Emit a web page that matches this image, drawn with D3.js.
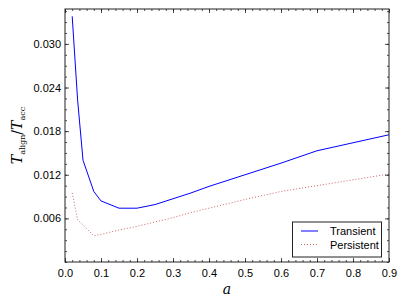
<!DOCTYPE html>
<html><head><meta charset="utf-8">
<script src="https://cdn.jsdelivr.net/npm/d3@7"></script>
<style>
html,body{margin:0;padding:0;background:#fff;}
svg{display:block;}
text{font-family:"Liberation Sans",Arial,sans-serif;}
text.serif{font-family:"DejaVu Serif","Liberation Serif",serif;}
</style></head>
<body>
<svg id="c" width="407" height="305"></svg>
<script>
const aValues = [0.02, 0.035, 0.05, 0.08, 0.1, 0.15, 0.2, 0.25, 0.3, 0.35, 0.4, 0.5, 0.6, 0.7, 0.8, 0.9];
const transient = [0.0338, 0.0223, 0.0140, 0.0097, 0.0084, 0.0074, 0.0074, 0.0079, 0.0087, 0.0095, 0.0104, 0.0120, 0.0136, 0.0153, 0.0164, 0.0175];
const persistent = [0.0095, 0.0058, 0.0051, 0.0036, 0.0038, 0.0044, 0.0049, 0.0055, 0.0061, 0.0068, 0.0074, 0.0086, 0.0097, 0.0105, 0.0113, 0.0121];
const xTicks = [0.0, 0.1, 0.2, 0.3, 0.4, 0.5, 0.6, 0.7, 0.8, 0.9];
const yTicks = [0.006, 0.012, 0.018, 0.024, 0.030];
const seriesNames = ["Transient", "Persistent"];

const svg = d3.select("#c");
const L = 65, R = 389, T = 9, B = 262;
const x = d3.scaleLinear().domain([0, 0.9]).range([L, R]);
const y = d3.scaleLinear().domain([0, 0.0348]).range([B, T]);

const line = d3.line().x(d => x(d[0])).y(d => y(d[1]));
svg.append("path").datum(aValues.map((a, i) => [a, transient[i]]))
  .attr("d", line).attr("fill", "none").attr("stroke", "#0000ff").attr("stroke-width", 1);
svg.append("path").datum(aValues.map((a, i) => [a, persistent[i]]))
  .attr("d", line).attr("fill", "none").attr("stroke", "#c44a4a").attr("stroke-width", 1)
  .attr("stroke-dasharray", "1,2").attr("opacity", 0.85);

const xMinor = d3.range(0, 0.9001, 0.02);
const yMinor = d3.range(0, 0.0348, 0.0015);
const axCol = "#222";
function tickAxis(axisFn, scale, vals, size, tr, labels) {
  const g = svg.append("g").attr("transform", tr)
    .call(axisFn(scale).tickValues(vals).tickSize(size).tickFormat(labels ? labels : ""));
  g.select(".domain").remove();
  g.selectAll(".tick line").attr("stroke", axCol).attr("stroke-width", 0.8);
  return g;
}
tickAxis(d3.axisTop, x, xMinor, 2, `translate(0,${B})`);
const gxb = tickAxis(d3.axisTop, x, xTicks, 4, `translate(0,${B})`, d3.format(".1f"));
gxb.selectAll(".tick text").attr("y", 15).attr("dy", 0).attr("font-size", 11).attr("fill", "#000");
tickAxis(d3.axisBottom, x, xMinor, 2, `translate(0,${T})`);
tickAxis(d3.axisBottom, x, xTicks, 4, `translate(0,${T})`);
tickAxis(d3.axisRight, y, yMinor, 2, `translate(${L},0)`);
const gyl = tickAxis(d3.axisRight, y, yTicks, 4, `translate(${L},0)`, d3.format(".3f"));
gyl.selectAll(".tick text").attr("x", -4).attr("text-anchor", "end").attr("font-size", 11).attr("fill", "#000");
tickAxis(d3.axisLeft, y, yMinor, 2, `translate(${R},0)`);
tickAxis(d3.axisLeft, y, yTicks, 4, `translate(${R},0)`);

svg.append("rect").attr("x", L).attr("y", T).attr("width", R - L).attr("height", B - T)
  .attr("fill", "none").attr("stroke", axCol).attr("stroke-width", 1);

svg.append("text").attr("class", "serif").attr("x", (L + R) / 2).attr("y", 294).attr("text-anchor", "middle")
  .attr("font-style", "italic").attr("font-size", 14).text("a");

const yl = svg.append("text").attr("class", "serif")
  .attr("transform", `translate(22,${(T + B) / 2}) rotate(-90)`)
  .attr("text-anchor", "middle").attr("font-size", 14);
yl.append("tspan").attr("font-style", "italic").text("T");
yl.append("tspan").attr("font-size", 8).attr("dy", 3).text("align");
yl.append("tspan").attr("dy", -3).text("/");
yl.append("tspan").attr("font-style", "italic").text("T");
yl.append("tspan").attr("font-size", 8).attr("dy", 3).text("acc");

const lg = svg.append("g");
lg.append("rect").attr("x", 292.5).attr("y", 222).attr("width", 89).attr("height", 35)
  .attr("fill", "#fff").attr("stroke", "#222").attr("stroke-width", 1);
const legStyles = [{c: "#0000ff", d: null, o: 1}, {c: "#c44a4a", d: "1,2", o: 0.85}];
seriesNames.forEach((n, i) => {
  const yy = 231 + i * 13.5;
  lg.append("line").attr("x1", 301).attr("x2", 318).attr("y1", yy).attr("y2", yy)
    .attr("stroke", legStyles[i].c).attr("stroke-width", 1)
    .attr("stroke-dasharray", legStyles[i].d).attr("opacity", legStyles[i].o);
  lg.append("text").attr("x", 330).attr("y", yy + 4).attr("font-size", 11).text(n);
});
</script>
</body></html>
